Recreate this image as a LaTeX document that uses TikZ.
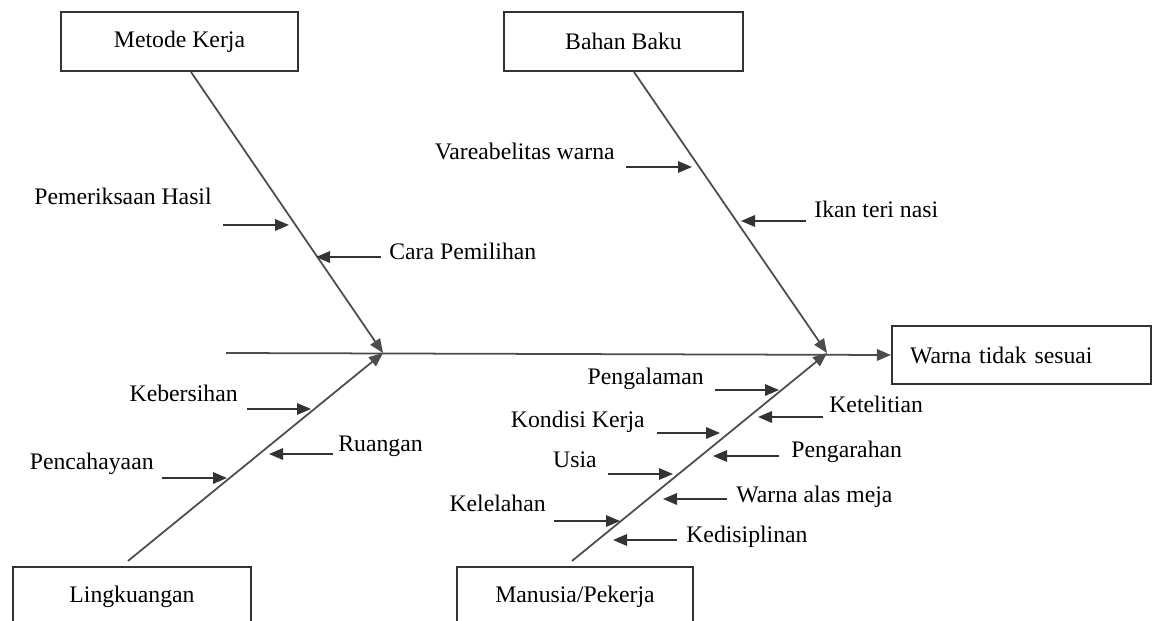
\documentclass[tikz,border=0pt]{standalone}
\usepackage{fontspec}
\setmainfont{Liberation Serif}
\usetikzlibrary{arrows.meta}

\tikzset{
  kategori/.style={draw=black!80, line width=1.2pt, minimum height=1.18cm,
    inner sep=0pt, font=\fontsize{13.5}{16}\selectfont},
  sebab/.style={inner sep=0pt, font=\fontsize{13.5}{16}\selectfont},
  tulang/.style={draw=black!70, line width=1pt,
    -{Triangle[length=2.8mm,width=2.3mm]}},
  panah/.style={draw=black!80, line width=1pt,
    -{Triangle[length=2.8mm,width=2.3mm]}},
}

\begin{document}
\begin{tikzpicture}[x=0.02cm,y=-0.02cm]
    \useasboundingbox (0,0) rectangle (1153,621);
    \clip (0,0) rectangle (1153,621);

    % kotak kategori
    \node [kategori,minimum width=4.74cm] (metode) at (179.5,41.5) {Metode Kerja};
    \node [kategori,minimum width=4.78cm] (bahan) at (623.5,41.5) {Bahan Baku};
    \node [kategori,minimum width=4.76cm] (lingkungan) at (132,596.5) {Lingkuangan};
    \node [kategori,minimum width=4.72cm] (manusia) at (575,596.5) {Manusia/Pekerja};
    \node [kategori,minimum height=1.16cm,text width=4.46cm,inner xsep=0.36cm,
    align=left] (akibat) at (1021.5,355) {Warna tidak sesuai};

    % tulang utama
    \coordinate (ekor) at (226,353);
    \coordinate (j1) at (383,353);
    \coordinate (j2) at (827,353);

    \draw [tulang] (ekor) -- (akibat.west);
    \draw [tulang] ([xshift=0.23cm]metode.south) -- (j1);
    \draw [tulang] ([xshift=0.21cm]bahan.south) -- (j2);
    \draw [tulang] ([shift={(-0.08cm,0.1cm)}]lingkungan.north) -- (j1);
    \draw [tulang] ([shift={(-0.06cm,0.1cm)}]manusia.north) -- (j2);

    % sebab dari kiri
    \coordinate (s1a) at (223,225); \coordinate (s1b) at (289,225);
    \node [sebab,anchor=mid east] (s1) at (212,200) {Pemeriksaan Hasil};
    \draw [panah] (s1a) -- (s1b);

    \coordinate (s2a) at (626,167); \coordinate (s2b) at (692,167);
    \node [sebab,anchor=mid east] (s2) at (615,155) {Vareabelitas warna};
    \draw [panah] (s2a) -- (s2b);

    \coordinate (s3a) at (247,409); \coordinate (s3b) at (311,409);
    \node [sebab,anchor=mid east] (s3) at (238,397) {Kebersihan};
    \draw [panah] (s3a) -- (s3b);

    \coordinate (s4a) at (162,478); \coordinate (s4b) at (227,478);
    \node [sebab,anchor=mid east] (s4) at (154,465) {Pencahayaan};
    \draw [panah] (s4a) -- (s4b);

    \coordinate (s5a) at (715,390); \coordinate (s5b) at (779,390);
    \node [sebab,anchor=mid east] (s5) at (704,380) {Pengalaman};
    \draw [panah] (s5a) -- (s5b);

    \coordinate (s6a) at (657,433); \coordinate (s6b) at (720,433);
    \node [sebab,anchor=mid east] (s6) at (645,423) {Kondisi Kerja};
    \draw [panah] (s6a) -- (s6b);

    \coordinate (s7a) at (608,474); \coordinate (s7b) at (673,474);
    \node [sebab,anchor=mid east] (s7) at (597,463) {Usia};
    \draw [panah] (s7a) -- (s7b);

    \coordinate (s8a) at (554,521); \coordinate (s8b) at (620,521);
    \node [sebab,anchor=mid east] (s8) at (546,507) {Kelelahan};
    \draw [panah] (s8a) -- (s8b);

    % sebab dari kanan
    \coordinate (s9a) at (381,257); \coordinate (s9b) at (316,257);
    \node [sebab,anchor=mid west] (s9) at (389,255) {Cara Pemilihan};
    \draw [panah] (s9a) -- (s9b);

    \coordinate (s10a) at (806,221); \coordinate (s10b) at (741,221);
    \node [sebab,anchor=mid west] (s10) at (814,213) {Ikan teri nasi};
    \draw [panah] (s10a) -- (s10b);

    \coordinate (s11a) at (333,454); \coordinate (s11b) at (269,454);
    \node [sebab,anchor=mid west] (s11) at (338,447) {Ruangan};
    \draw [panah] (s11a) -- (s11b);

    \coordinate (s12a) at (823,417); \coordinate (s12b) at (758,417);
    \node [sebab,anchor=mid west] (s12) at (829,408) {Ketelitian};
    \draw [panah] (s12a) -- (s12b);

    \coordinate (s13a) at (779,456); \coordinate (s13b) at (713,456);
    \node [sebab,anchor=mid west] (s13) at (791,453) {Pengarahan};
    \draw [panah] (s13a) -- (s13b);

    \coordinate (s14a) at (727,499); \coordinate (s14b) at (663,499);
    \node [sebab,anchor=mid west] (s14) at (736,498) {Warna alas meja};
    \draw [panah] (s14a) -- (s14b);

    \coordinate (s15a) at (677,540); \coordinate (s15b) at (613,540);
    \node [sebab,anchor=mid west] (s15) at (686,538) {Kedisiplinan};
    \draw [panah] (s15a) -- (s15b);
\end{tikzpicture}
\end{document}
